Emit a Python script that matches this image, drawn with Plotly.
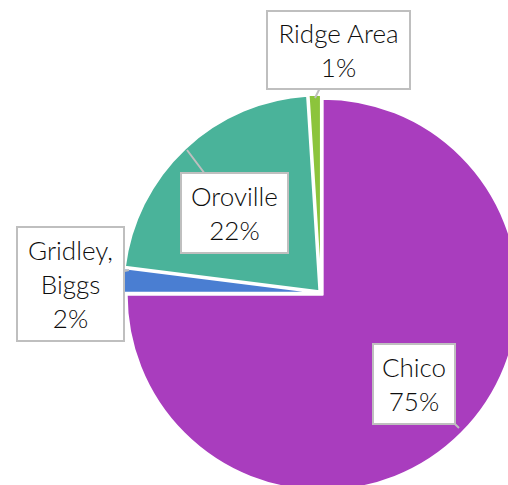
import plotly.graph_objects as go

labels = ["Chico", "Gridley, Biggs", "Oroville", "Ridge Area"]
values = [75, 2, 22, 1]
colors = ["#A93DBE", "#4A7ED2", "#4AB39A", "#8CC43C"]
label_text = ["Chico<br>75%", "Gridley,<br>Biggs<br>2%", "Oroville<br>22%", "Ridge Area<br>1%"]

FW, FH = 524, 492  # figure slightly larger than window so the pie is clipped like the reference
cx, cy, r = 321, 293, 196 * 1.012

fig = go.Figure(go.Pie(
    labels=labels, values=values, sort=False, direction="clockwise", rotation=0,
    marker=dict(colors=colors, line=dict(color="white", width=2)),
    pull=[0.012, 0.012, 0.012, 0.012],
    textinfo="none", hoverinfo="label+percent",
    domain=dict(x=[(cx - r) / FW, (cx + r) / FW], y=[(FH - cy - r) / FH, (FH - cy + r) / FH]),
    showlegend=False,
))

# callout label boxes: (box center px, tip px, box w, box h)
callouts = [
    ((413.5, 383.5), (459, 428), 80, 78),
    ((70, 283.5), (129, 270), 105, 112),
    ((234, 212.5), (187, 150), 105, 78),
    ((338.5, 50), (315, 98), 141, 76),
]
for txt, (c, tip, bw, bh) in zip(label_text, callouts):
    fig.add_annotation(
        x=tip[0] / FW, y=1 - tip[1] / FH, xref="paper", yref="paper",
        ax=c[0] - tip[0], ay=c[1] - tip[1], axref="pixel", ayref="pixel",
        text=txt, showarrow=True, arrowhead=0, arrowwidth=2, arrowcolor="#BFBFBF",
        bgcolor="white", bordercolor="#BFBFBF", borderwidth=2, borderpad=0,
        width=bw, height=bh, align="center", valign="middle",
        font=dict(family="Lato", size=26, color="#0D0D0D", weight=300),
    )

fig.update_layout(
    width=FW, height=FH, margin=dict(l=0, r=0, t=0, b=0),
    paper_bgcolor="white", plot_bgcolor="white",
)
fig.write_html(
    "out.html",
    config={"displayModeBar": False},
    post_script="document.body.style.margin='0';document.body.style.overflow='hidden';",
)
